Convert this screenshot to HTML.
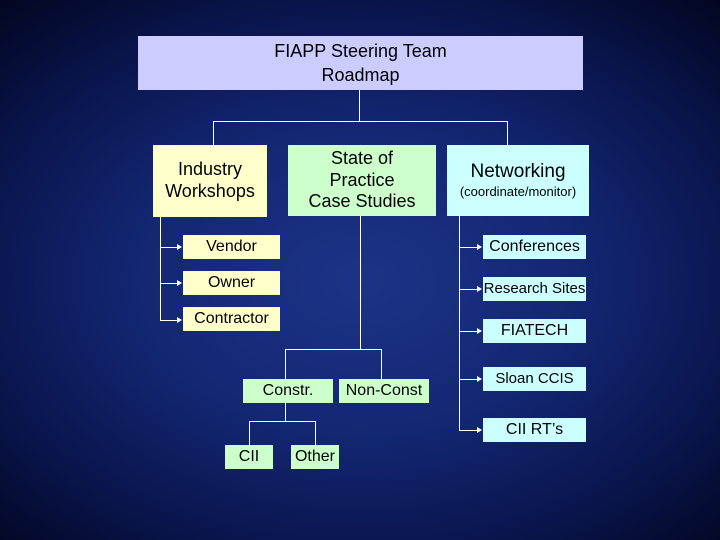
<!DOCTYPE html>
<html><head><style>
body{margin:0;width:720px;height:540px;overflow:hidden;background:radial-gradient(ellipse 75% 70% at 50% 52%,#1c3387 0%,#132773 40%,#0a1650 70%,#020620 100%);font-family:"Liberation Sans",sans-serif;position:relative}
.b{position:absolute;display:flex;align-items:center;justify-content:center;text-align:center;color:#000;font-size:16px;line-height:1.2}
.l{position:absolute;background:#fff}
.a{position:absolute;width:0;height:0;border-top:3px solid transparent;border-bottom:3px solid transparent;border-left:5px solid #fff}
.y{background:#ffffcc}.g{background:#ccffcc}.c{background:#ccffff}
</style></head><body>
<div class="b" style="left:138px;top:36px;width:445px;height:54px;background:#ccccff;font-size:18px;line-height:24px">FIAPP Steering Team<br>Roadmap</div>
<div class="l" style="left:359px;top:90px;width:1px;height:31px"></div>
<div class="l" style="left:213px;top:121px;width:294px;height:1px"></div>
<div class="l" style="left:213px;top:121px;width:1px;height:24px"></div>
<div class="l" style="left:507px;top:121px;width:1px;height:24px"></div>
<div class="b y" style="left:153px;top:145px;width:114px;height:72px;font-size:18px">Industry<br>Workshops</div>
<div class="b g" style="left:288px;top:145px;width:148px;height:71px;font-size:18px">State of<br>Practice<br>Case Studies</div>
<div class="b c" style="left:447px;top:145px;width:142px;height:71px;font-size:19px;flex-direction:column">Networking<span style="font-size:13px">(coordinate/monitor)</span></div>
<div class="l" style="left:160px;top:217px;width:1px;height:104px"></div>
<div class="l" style="left:160px;top:247px;width:18px;height:1px"></div><div class="a" style="left:177px;top:244px"></div>
<div class="l" style="left:160px;top:283px;width:18px;height:1px"></div><div class="a" style="left:177px;top:280px"></div>
<div class="l" style="left:160px;top:320px;width:18px;height:1px"></div><div class="a" style="left:177px;top:317px"></div>
<div class="b y" style="left:183px;top:235px;width:97px;height:24px">Vendor</div>
<div class="b y" style="left:183px;top:271px;width:97px;height:24px">Owner</div>
<div class="b y" style="left:183px;top:307px;width:97px;height:24px">Contractor</div>
<div class="l" style="left:360px;top:216px;width:1px;height:133px"></div>
<div class="l" style="left:285px;top:349px;width:96px;height:1px"></div>
<div class="l" style="left:285px;top:349px;width:1px;height:30px"></div>
<div class="l" style="left:381px;top:349px;width:1px;height:30px"></div>
<div class="b g" style="left:243px;top:379px;width:90px;height:24px">Constr.</div>
<div class="b g" style="left:339px;top:379px;width:90px;height:24px">Non-Const</div>
<div class="l" style="left:285px;top:403px;width:1px;height:18px"></div>
<div class="l" style="left:249px;top:421px;width:66px;height:1px"></div>
<div class="l" style="left:249px;top:421px;width:1px;height:24px"></div>
<div class="l" style="left:315px;top:421px;width:1px;height:24px"></div>
<div class="b g" style="left:225px;top:445px;width:48px;height:24px">CII</div>
<div class="b g" style="left:291px;top:445px;width:48px;height:24px">Other</div>
<div class="l" style="left:459px;top:216px;width:1px;height:214px"></div>
<div class="l" style="left:459px;top:247px;width:19px;height:1px"></div><div class="a" style="left:477px;top:244px"></div>
<div class="l" style="left:459px;top:289px;width:19px;height:1px"></div><div class="a" style="left:477px;top:286px"></div>
<div class="l" style="left:459px;top:331px;width:19px;height:1px"></div><div class="a" style="left:477px;top:328px"></div>
<div class="l" style="left:459px;top:379px;width:19px;height:1px"></div><div class="a" style="left:477px;top:376px"></div>
<div class="l" style="left:459px;top:430px;width:19px;height:1px"></div><div class="a" style="left:477px;top:427px"></div>
<div class="b c" style="left:483px;top:235px;width:103px;height:24px">Conferences</div>
<div class="b c" style="left:483px;top:277px;width:103px;height:24px;font-size:15px">Research Sites</div>
<div class="b c" style="left:483px;top:319px;width:103px;height:24px">FIATECH</div>
<div class="b c" style="left:483px;top:367px;width:103px;height:24px;font-size:15px">Sloan CCIS</div>
<div class="b c" style="left:483px;top:418px;width:103px;height:24px">CII RT’s</div>
</body></html>
